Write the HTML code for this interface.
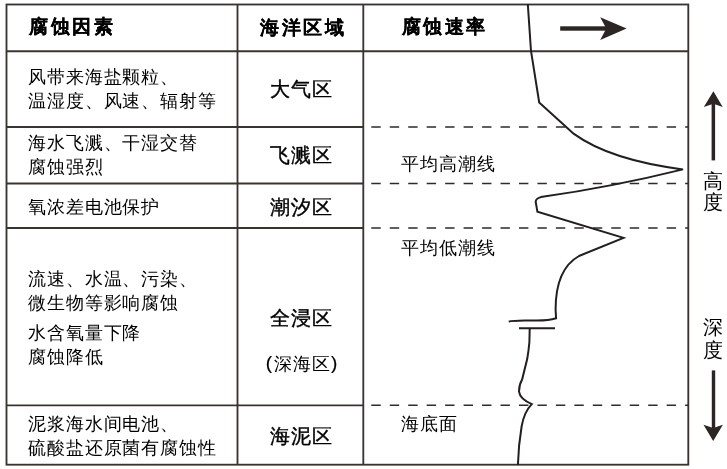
<!DOCTYPE html>
<html><head><meta charset="utf-8">
<style>
html,body{margin:0;padding:0;background:#fff;}
body{width:727px;height:469px;position:relative;overflow:hidden;font-family:"Liberation Sans",sans-serif;color:#000;}
svg{position:absolute;left:0;top:0;}
.t{position:absolute;white-space:nowrap;font-size:18px;letter-spacing:0.9px;line-height:24px;}
.h{position:absolute;white-space:nowrap;font-size:19px;line-height:24px;font-weight:bold;letter-spacing:2.6px;-webkit-text-stroke:0.15px #000;}
.z{position:absolute;white-space:nowrap;font-size:20px;line-height:24px;letter-spacing:1px;-webkit-text-stroke:0.4px #000;}
.w{position:absolute;left:0;top:0;width:727px;height:469px;will-change:transform;}
</style></head><body>
<svg width="727" height="469" viewBox="0 0 727 469">
<g stroke="#3a3431" stroke-width="1.85" fill="none">
<rect x="6.5" y="4.5" width="681.8" height="460.2"/>
<line x1="6" y1="51.2" x2="688" y2="51.2"/>
<line x1="237.5" y1="4" x2="237.5" y2="465"/>
<line x1="363.3" y1="4" x2="363.3" y2="465"/>
<line x1="6" y1="127" x2="363" y2="127"/>
<line x1="6" y1="183.5" x2="363" y2="183.5"/>
<line x1="6" y1="228" x2="363" y2="228"/>
<line x1="6" y1="405.3" x2="363" y2="405.3"/>
</g>
<g stroke="#302a28" stroke-width="1.6" fill="none" stroke-dasharray="9.4 9.06">
<line x1="371.3" y1="127" x2="688" y2="127"/>
<line x1="371.3" y1="183.5" x2="688" y2="183.5"/>
<line x1="371.3" y1="228" x2="688" y2="228"/>
<line x1="371.3" y1="405.3" x2="688" y2="405.3"/>
</g>
<g stroke="#231f20" stroke-width="2" fill="none" stroke-linejoin="miter">
<path d="M527.8 4 L531 51 L539.2 102.5 L573.9 133.9 Q610 160 683 169.4 Q611.9 187 540.8 197.1 Q535.5 198.5 535.7 202 L537.4 211.6 L623.5 237.9 L579 256 C563 265 555.5 283 555.6 310 L556.1 318.3 Q549 320.6 537 320.6 L524.8 320.6 Q512 320.8 508.7 321.6"/>
<line x1="519" y1="328.2" x2="555" y2="328.2"/>
<path d="M529.7 328.4 L529.4 342 Q528.5 352 527.2 359.1 L522.1 379.6 Q519 385 519 391.6 Q520 399 531.8 404.1 Q524 412 521.6 426.5 Q518.5 445 517.9 465"/>
</g>
<g fill="#2b2523">
<rect x="560.2" y="26.3" width="47" height="4.4"/>
<polygon points="626.6,28.5 600.2,17.2 606.3,28.5 600.2,39.9"/>
<rect x="711.6" y="103" width="3.5" height="57.4"/>
<polygon points="713.4,91.3 703.8,107 713.4,103.7 722.7,107"/>
<rect x="711.8" y="370.4" width="3.4" height="58"/>
<polygon points="713.2,440.9 703.5,424.8 713.2,428 722.9,424.8"/>
</g>
</svg>
<div class="w">
<div class="h" style="left:29px;top:15.3px">腐蚀因素</div>
<div class="h" style="left:260px;top:16.2px">海洋区域</div>
<div class="h" style="left:401.5px;top:15.3px">腐蚀速率</div>

<div class="t" style="left:28px;top:64.5px">风带来海盐颗粒、<br>温湿度、风速、辐射等</div>
<div class="t" style="left:28px;top:131px">海水飞溅、干湿交替<br>腐蚀强烈</div>
<div class="t" style="left:28px;top:194.5px">氧浓差电池保护</div>
<div class="t" style="left:28px;top:266.6px">流速、水温、污染、<br>微生物等影响腐蚀</div>
<div class="t" style="left:28px;top:321px">水含氧量下降<br>腐蚀降低</div>
<div class="t" style="left:28px;top:412px">泥浆海水间电池、<br>硫酸盐还原菌有腐蚀性</div>

<div class="z" style="left:270px;top:77px">大气区</div>
<div class="z" style="left:270px;top:143px">飞溅区</div>
<div class="z" style="left:270px;top:195px">潮汐区</div>
<div class="z" style="left:270px;top:306px">全浸区</div>
<div class="t" style="left:255px;top:352px;font-size:18px;letter-spacing:0.8px"><span style="display:inline-block;width:19px;text-align:right;padding-right:1.2px;box-sizing:border-box;font-size:19px;position:relative;top:-1.5px;-webkit-text-stroke:0.2px #000">(</span>深海区<span style="display:inline-block;width:19px;text-align:left;padding-left:0.5px;box-sizing:border-box;font-size:19px;position:relative;top:-1.5px;-webkit-text-stroke:0.2px #000">)</span></div>
<div class="z" style="left:270px;top:424px">海泥区</div>

<div class="t" style="left:401px;top:152.3px">平均高潮线</div>
<div class="t" style="left:401px;top:236px">平均低潮线</div>
<div class="t" style="left:401px;top:411.8px">海底面</div>

<div class="t" style="left:702.5px;top:170.5px;font-size:20px;line-height:21px">高<br>度</div>
<div class="t" style="left:702.5px;top:316px;font-size:20px;line-height:22.5px">深<br>度</div>
</div>
</body></html>
